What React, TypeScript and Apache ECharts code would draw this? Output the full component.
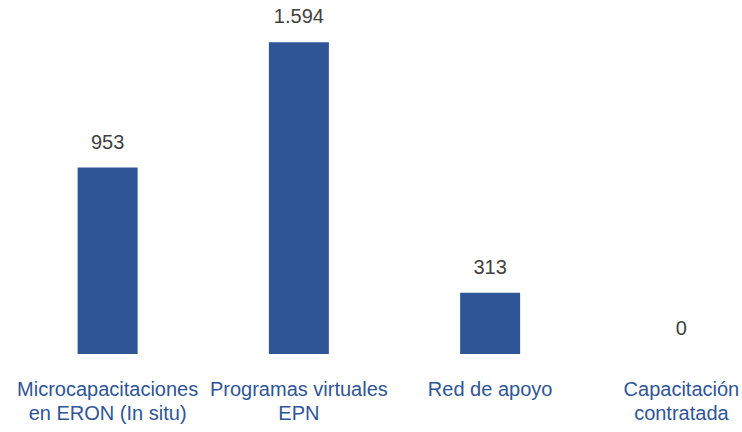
import React, { useEffect, useRef } from "react";
import * as echarts from "echarts";

const categories = [
  "Microcapacitaciones\nen ERON (In situ)",
  "Programas virtuales\nEPN",
  "Red de apoyo",
  "Capacitación\ncontratada",
];
const values = [953, 1594, 313, 0];

const fmt = (v: number) => String(v).replace(/\B(?=(\d{3})+(?!\d))/g, ".");

export default function App() {
  const ref = useRef<HTMLDivElement>(null);
  useEffect(() => {
    if (!ref.current) return;
    const chart = echarts.init(ref.current, undefined, { renderer: "svg" });
    chart.setOption({
      animation: false,
      grid: { left: 12, top: 0, width: 765, height: 354, outerBoundsMode: "none", containLabel: false },
      xAxis: {
        type: "category",
        data: categories,
        axisLine: { show: false },
        axisTick: { show: false },
        axisLabel: {
          interval: 0,
          margin: 23,
          color: "#2F5597",
          fontFamily: "Liberation Sans, Arial, sans-serif",
          fontSize: 20,
          lineHeight: 24,
        },
      },
      yAxis: {
        type: "value",
        show: false,
        min: 0,
        max: 1810,
        splitLine: { show: false },
      },
      series: [
        {
          type: "bar",
          data: values,
          barWidth: 60,
          itemStyle: { color: "#2F5597" },
          label: {
            show: true,
            position: "top",
            distance: 14,
            color: "#404040",
            fontFamily: "Liberation Sans, Arial, sans-serif",
            fontSize: 20,
            lineHeight: 24,
            formatter: (p: any) => fmt(p.value),
          },
        },
      ],
    });
    return () => chart.dispose();
  }, []);
  return (
    <div
      ref={ref}
      style={{ position: "absolute", left: 0, top: 0, width: 742, height: 432, background: "#fff" }}
    />
  );
}
